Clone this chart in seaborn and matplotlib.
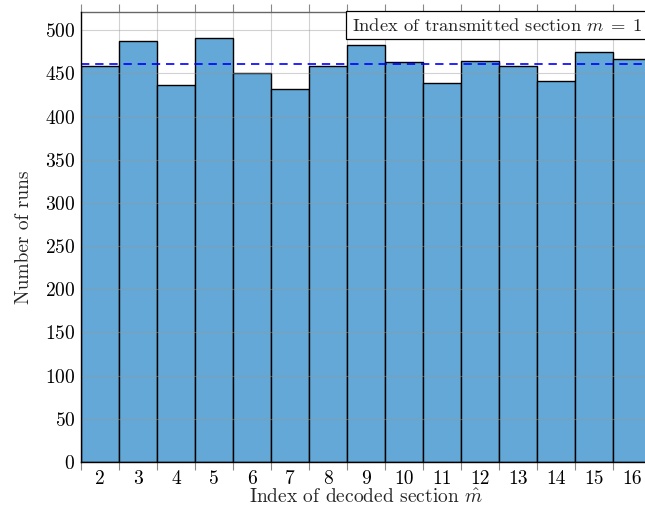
import numpy as np
import pandas as pd
import matplotlib
matplotlib.use("Agg")
import matplotlib.pyplot as plt
import seaborn as sns

# Decoded section index and how many runs ended on each one
sections = [2, 3, 4, 5, 6, 7, 8, 9, 10, 11, 12, 13, 14, 15, 16]
runs = [459, 487, 436, 491, 450, 432, 459, 483, 463, 439, 464, 459, 441, 475, 467]
y_ticks = [0, 50, 100, 150, 200, 250, 300, 350, 400, 450, 500]

sns.set_theme(style="white")
plt.rcParams["font.family"] = ["cmr10", "DejaVu Serif"]
plt.rcParams["mathtext.fontset"] = "cm"
plt.rcParams["axes.formatter.use_mathtext"] = True

df = pd.DataFrame({"section": sections, "runs": runs})

fig = plt.figure(figsize=(6.45, 5.12), dpi=100)
ax = fig.add_axes([81 / 645, 50 / 512, 570 / 645, 450 / 512])

sns.histplot(data=df, x="section", weights="runs", discrete=True,
             color="#63a8d6", alpha=1.0, edgecolor="black", linewidth=1.0, ax=ax)
for patch in ax.patches:
    patch.set_zorder(2)

mean_runs = np.mean(runs)
ax.axhline(mean_runs, color="blue", linestyle=(0, (5, 3.5)), linewidth=1.2, zorder=4)

edges = np.arange(sections[0] - 0.5, sections[-1] + 1.0, 1.0)
ax.set_xlim(edges[0], edges[-1])
ax.set_ylim(0, 521)

ax.set_xticks(edges)
ax.set_xticklabels([])
ax.set_xticks(sections, minor=True)
ax.set_xticklabels([str(s) for s in sections], minor=True)
ax.set_yticks(y_ticks)

ax.tick_params(axis="x", which="major", direction="out", length=6, width=0.8,
               color="#888888", top=True, bottom=True)
ax.tick_params(axis="x", which="minor", length=0, labelsize=14, pad=6, colors="black")
ax.tick_params(axis="y", which="major", direction="in", length=5, width=0.8,
               color="#888888", labelsize=14, pad=4)
ax.tick_params(axis="y", labelcolor="black")

# vertical grid sits behind the bars, horizontal grid shows through them
ax.grid(True, which="major", color="#9a9a9a", alpha=0.45, linewidth=0.8)
ax.xaxis.set_zorder(1)
ax.yaxis.set_zorder(3)

for side in ["left", "bottom"]:
    ax.spines[side].set_color("black")
    ax.spines[side].set_linewidth(1.0)
    ax.spines[side].set_zorder(5)
ax.spines["top"].set_color("#666666")
ax.spines["top"].set_linewidth(1.0)
ax.spines["right"].set_visible(False)

ax.set_xlabel(r"Index of decoded section $\hat{m}$", fontsize=14, labelpad=0)
ax.set_ylabel("Number of runs", fontsize=14, labelpad=9)

ax.text(0.984, 0.971, r"Index of transmitted section $m\;=\;1$", transform=ax.transAxes,
        ha="right", va="center", fontsize=13.3, zorder=6,
        bbox=dict(boxstyle="square,pad=0.3", facecolor="white", edgecolor="black",
                  linewidth=0.9))

fig.savefig("out.png", dpi=100)
